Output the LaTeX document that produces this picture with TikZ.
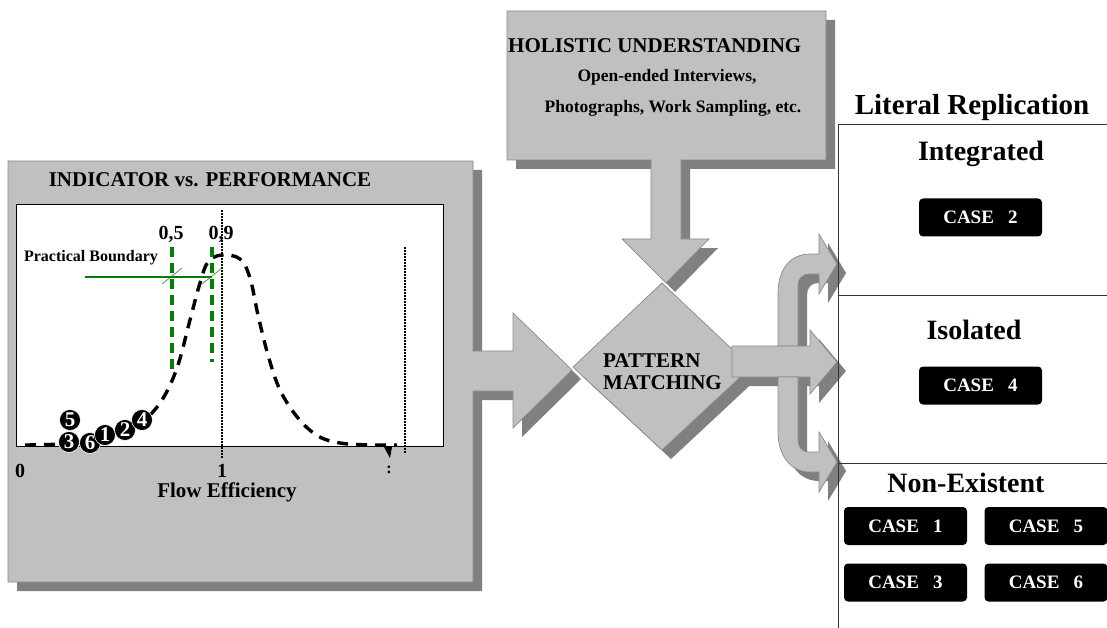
\documentclass[tikz,border=0pt]{standalone}
\usepackage{fontspec}
\setmainfont{Liberation Serif}
\definecolor{panel}{HTML}{C0C0C0}
\definecolor{shade}{HTML}{808080}
\definecolor{edge}{HTML}{8A8A8A}
\definecolor{pgreen}{HTML}{008000}
\newcommand\fsz[1]{\fontsize{#1}{#1}\selectfont\bfseries}
\tikzset{
 blk/.style={fill=panel, draw=edge, line width=0.7pt, line join=miter},
 shadowed/.style={preaction={fill=shade, transform canvas={shift={(9pt,-9pt)}}}},
 lbl/.style={inner sep=0pt, anchor=base},
 casebox/.style={fill=black, rounded corners=4pt, text=white, minimum width=123pt, minimum height=38pt, inner sep=0pt, font=\fsz{19}},
 numdot/.style={circle, fill=black, draw=white, line width=0.6pt, text=white, minimum size=21pt, inner sep=0pt, font=\fsz{21}},
 bellcurve/.style={line width=3.4pt, dash pattern=on 11pt off 8pt},
 gdash/.style={pgreen, line width=3.4pt, dash pattern=on 10pt off 6pt},
 dotl/.style={line width=1.4pt, dash pattern=on 1.6pt off 1.4pt},
 divider/.style={draw=black!80, line width=0.8pt},
}
\begin{document}
\begin{tikzpicture}[x=1pt,y=-1pt]
\useasboundingbox (0,0) rectangle (1107,628);

% left panel with arrow
\path[blk, shadowed] (8,161) -- (473,161) -- (473,351) -- (513,351) -- (513,313) -- (572,370) -- (513,428) -- (513,391) -- (473,391) -- (473,582) -- (8,582) -- cycle;
% holistic box with down arrow
\path[blk, shadowed] (507,11) -- (826,11) -- (826,160) -- (681,160) -- (681,239) -- (709,239) -- (666,283) -- (622,239) -- (651,239) -- (651,160) -- (507,160) -- cycle;
% diamond
\path[blk, shadowed] (662,283) -- (751,367) -- (662,450) -- (573,367) -- cycle;
% top curved arrow
\path[blk, shadowed] (778,346) -- (778,293) .. controls (778,270) and (790,254) .. (810,254) -- (819,254) -- (819,234) -- (837,264) -- (819,294) -- (819,274) -- (809,274) .. controls (802,274) and (798,279) .. (798,286) -- (798,346) -- cycle;
% middle arrow
\path[blk, shadowed] (732,346) -- (810,346) -- (810,330) -- (837,362) -- (810,394) -- (810,377) -- (732,377) -- cycle;
% bottom curved arrow
\path[blk, shadowed] (778,377) -- (778,432) .. controls (778,455) and (790,472) .. (810,472) -- (819,472) -- (819,492) -- (837,462) -- (819,432) -- (819,452) -- (809,452) .. controls (802,452) and (798,447) .. (798,440) -- (798,377) -- cycle;

% right column lines
\draw[divider] (838,628) -- (838,124) -- (1107,124);
\draw[divider] (838,295) -- (1107,295);
\draw[divider] (838,463) -- (1107,463);

% plot area
\draw[fill=white, draw=black, line width=1pt] (16,205) rectangle (443,446);
\draw[dotl] (222,210) -- (222,458);
\draw[dotl] (405,247) -- (405,453);
\draw[bellcurve] plot[smooth, tension=0.6] coordinates {(25,445) (60,444) (100,440) (130,430) (150,415) (165,395) (178,365) (190,320) (200,283) (208,262) (222,255) (240,259) (250,278) (258,315) (268,355) (280,390) (298,418) (318,436) (340,443) (370,445) (397,445)};
\fill (384,447) -- (392,447) -- (390,458) -- cycle;
\draw[gdash] (172,247) -- (172,373);
\draw[gdash] (212,247) -- (212,362);
\draw[pgreen, line width=2.5pt] (85,277) -- (212,277);
\draw[pgreen, line width=0.5pt] (162,284) -- (182,268);
\draw[pgreen, line width=0.5pt] (202,284) -- (222,268);

\node[numdot] (n5) at (70,420) {5};
\node[numdot] (n3) at (69,442) {3};
\node[numdot] (n6) at (90,443) {6};
\node[numdot] (n1) at (105,435) {1};
\node[numdot] (n2) at (125,430) {2};
\node[numdot] (n4) at (142,420) {4};

% texts
\node[lbl, font=\fsz{21}] (t1) at (210,187) {INDICATOR vs. PERFORMANCE};
\node[lbl, font=\fsz{20}] (p05) at (171,240) {0,5};
\node[lbl, font=\fsz{20}] (p09) at (221,240) {0,9};
\node[lbl, font=\fsz{16}] (pb) at (91,261) {Practical Boundary};
\node[lbl, font=\fsz{20}] (x0) at (20,477) {0};
\node[lbl, font=\fsz{20}] (x1) at (222,477) {1};
\node[lbl, font=\fsz{16}] (xc) at (389,473) {:};
\node[lbl, font=\fsz{21}] (xl) at (227,497) {Flow Efficiency};

\node[lbl, anchor=base west, font=\fsz{21}] (h1) at (508,53) {HOLISTIC UNDERSTANDING};
\node[lbl, font=\fsz{17.5}] (h2) at (667,82) {Open-ended Interviews,};
\node[lbl, font=\fsz{17.5}] (h3) at (673,113) {Photographs, Work Sampling, etc.};
\node[lbl, anchor=base west, font=\fsz{21}] (pm1) at (603,367) {PATTERN};
\node[lbl, anchor=base west, font=\fsz{21}] (pm2) at (603,389) {MATCHING};

\node[lbl, font=\fsz{29}] (lr) at (972,115) {Literal Replication};
\node[lbl, font=\fsz{28}] (ig) at (981,161) {Integrated};
\node[lbl, font=\fsz{28}] (is) at (974,339) {Isolated};
\node[lbl, font=\fsz{28}] (ne) at (966,492) {Non-Existent};

\node[casebox] (c2) at (980.5,217.5) {CASE~~~2};
\node[casebox] (c4) at (980.5,385.5) {CASE~~~4};
\node[casebox] (c1) at (905.5,526) {CASE~~~1};
\node[casebox] (c5) at (1046,526) {CASE~~~5};
\node[casebox] (c3) at (905.5,582.5) {CASE~~~3};
\node[casebox] (c6) at (1046,582.5) {CASE~~~6};
\end{tikzpicture}
\end{document}
